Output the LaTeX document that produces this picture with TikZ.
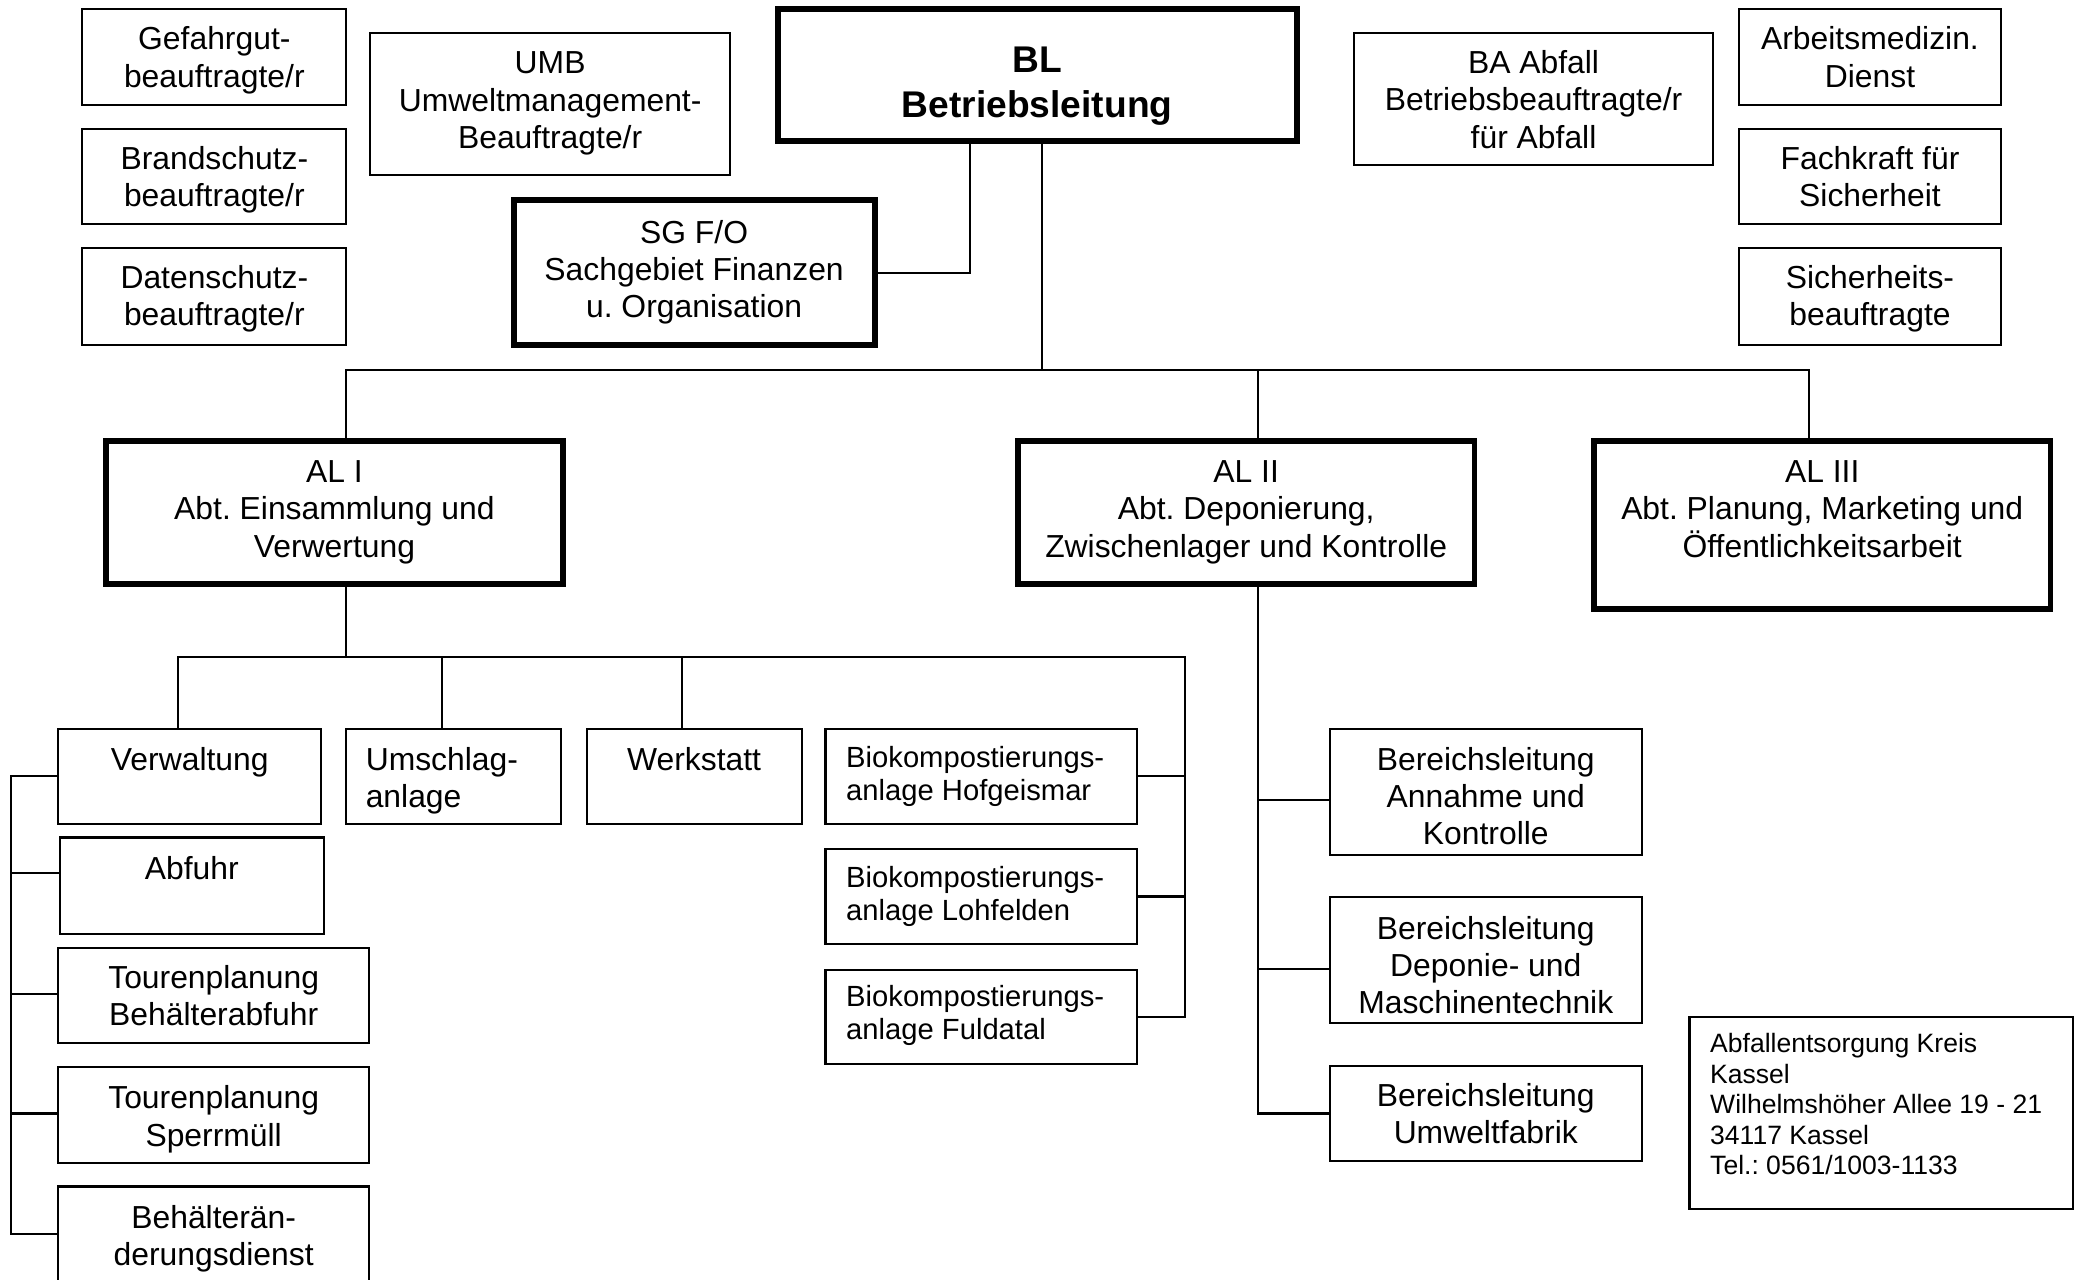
\documentclass[tikz,border=0pt]{standalone}
\usepackage{fontspec}
\setmainfont{Liberation Sans}
\usetikzlibrary{fit,calc}
\frenchspacing
\begin{document}
\begin{tikzpicture}[x=0.5pt,y=-0.5pt,
  box/.style={draw, line width=0.8pt, inner sep=0pt, rectangle},
  tbox/.style={draw, line width=2.2pt, inner sep=0pt, rectangle},
  lbl/.style={inner sep=0pt, align=center, anchor=north, font=\fontsize{12}{14}\selectfont},
  lbll/.style={inner sep=0pt, align=left, anchor=north west, font=\fontsize{12}{14}\selectfont},
  biol/.style={inner sep=0pt, align=left, anchor=north west, font=\fontsize{11}{12.5}\selectfont},
  addrl/.style={inner sep=0pt, align=left, anchor=north west, font=\fontsize{10}{11.5}\selectfont},
  bll/.style={inner sep=0pt, align=center, anchor=north, font=\fontsize{14}{17}\selectfont\bfseries},
  con/.style={line width=0.8pt}]
\useasboundingbox (0,0) rectangle (1568,964);
\clip (0,0) rectangle (1568,964);

% boxes
\node[box, fit={(62,7)(261,79)}] (gef) {};
\node[box, fit={(62,97)(261,169)}] (bra) {};
\node[box, fit={(62,187)(261,260)}] (dat) {};
\node[box, fit={(279,25)(550,132)}] (umb) {};
\node[tbox, fit={(586,7)(977,106)}] (bl) {};
\node[tbox, fit={(387,151)(659,260)}] (sg) {};
\node[box, fit={(1020,25)(1291,124)}] (ba) {};
\node[box, fit={(1310,7)(1508,79)}] (arb) {};
\node[box, fit={(1310,97)(1508,169)}] (fach) {};
\node[box, fit={(1310,187)(1508,260)}] (sich) {};
\node[tbox, fit={(80,332)(424,440)}] (al1) {};
\node[tbox, fit={(767,332)(1111,440)}] (al2) {};
\node[tbox, fit={(1201,332)(1545,459)}] (al3) {};
\node[box, fit={(44,549)(242,621)}] (verw) {};
\node[box, fit={(261,549)(423,621)}] (ums) {};
\node[box, fit={(442,549)(604,621)}] (werk) {};
\node[box, fit={(622,549)(857,621)}] (bio1) {};
\node[box, fit={(622,640)(857,711)}] (bio2) {};
\node[box, fit={(622,731)(857,802)}] (bio3) {};
\node[box, fit={(45,631)(244,704)}] (abf) {};
\node[box, fit={(44,714)(278,786)}] (tba) {};
\node[box, fit={(44,804)(278,876)}] (tsp) {};
\node[box, fit={(44,894)(278,968)}] (beh) {};
\node[box, fit={(1002,549)(1237,644)}] (ber1) {};
\node[box, fit={(1002,676)(1237,771)}] (ber2) {};
\node[box, fit={(1002,803)(1237,875)}] (ber3) {};
\node[box, fit={(1273,766)(1562,911)}] (addr) {};

% texts
\node[lbl] (gef-t) at ([yshift=-6.8pt]gef.north) {Gefahrgut-\\beauftragte/r};
\node[lbl] (bra-t) at ([yshift=-6.8pt]bra.north) {Brandschutz-\\beauftragte/r};
\node[lbl] (dat-t) at ([yshift=-6.8pt]dat.north) {Datenschutz-\\beauftragte/r};
\node[lbl] (umb-t) at ([yshift=-7.3pt]umb.north) {UMB\\Umweltmanagement-\\Beauftragte/r};
\node[bll] (bl-t) at ([yshift=-15pt]bl.north) {BL\\Betriebsleitung};
\node[lbl] (sg-t) at ([yshift=-8.5pt]sg.north) {SG F/O\\Sachgebiet Finanzen\\u. Organisation};
\node[lbl] (ba-t) at ([yshift=-6.8pt]ba.north) {BA Abfall\\Betriebsbeauftragte/r\\für Abfall};
\node[lbl] (arb-t) at ([yshift=-6.8pt]arb.north) {Arbeitsmedizin.\\Dienst};
\node[lbl] (fach-t) at ([yshift=-6.8pt]fach.north) {Fachkraft für\\Sicherheit};
\node[lbl] (sich-t) at ([yshift=-6.8pt]sich.north) {Sicherheits-\\beauftragte};
\node[lbl] (al1-t) at ([yshift=-8.5pt]al1.north) {AL I\\Abt. Einsammlung und\\Verwertung};
\node[lbl] (al2-t) at ([yshift=-8.5pt]al2.north) {AL II\\Abt. Deponierung,\\Zwischenlager und Kontrolle};
\node[lbl] (al3-t) at ([yshift=-8.5pt]al3.north) {AL III\\Abt. Planung, Marketing und\\Öffentlichkeitsarbeit};
\node[lbl] (verw-t) at ([yshift=-7.3pt]verw.north) {Verwaltung};
\node[lbll] (ums-t) at ([xshift=7.5pt,yshift=-7.3pt]ums.north west) {Umschlag-\\anlage};
\node[lbl] (werk-t) at ([yshift=-7.3pt]werk.north) {Werkstatt};
\node[biol] (bio1-t) at ([xshift=8pt,yshift=-6.8pt]bio1.north west) {Biokompostierungs-\\anlage Hofgeismar};
\node[biol] (bio2-t) at ([xshift=8pt,yshift=-6.5pt]bio2.north west) {Biokompostierungs-\\anlage Lohfelden};
\node[biol] (bio3-t) at ([xshift=8pt,yshift=-6pt]bio3.north west) {Biokompostierungs-\\anlage Fuldatal};
\node[lbl] (abf-t) at ([yshift=-7.3pt]abf.north) {Abfuhr};
\node[lbl] (tba-t) at ([yshift=-6.8pt]tba.north) {Tourenplanung\\Behälterabfuhr};
\node[lbl] (tsp-t) at ([yshift=-7.3pt]tsp.north) {Tourenplanung\\Sperrmüll};
\node[lbl] (beh-t) at ([yshift=-7.3pt]beh.north) {Behälterän-\\derungsdienst};
\node[lbl] (ber1-t) at ([yshift=-7.3pt]ber1.north) {Bereichsleitung\\Annahme und\\Kontrolle};
\node[lbl] (ber2-t) at ([yshift=-7.3pt]ber2.north) {Bereichsleitung\\Deponie- und\\Maschinentechnik};
\node[lbl] (ber3-t) at ([yshift=-6.8pt]ber3.north) {Bereichsleitung\\Umweltfabrik};
\node[addrl] (addr-t) at ([xshift=8pt,yshift=-6.6pt]addr.north west) {Abfallentsorgung Kreis\\Kassel\\Wilhelmshöher Allee 19 - 21\\34117 Kassel\\Tel.: 0561/1003-1133};

% connectors: top level
\coordinate (jSG) at (731,205);
\draw[con] (bl.south -| jSG) |- (sg.east);
\coordinate (hL) at (261,279);
\coordinate (hM) at (785,279);
\coordinate (h2) at (948,279);
\coordinate (hR) at (1363,279);
\draw[con] (bl.south -| hM) -- (hM);
\draw[con] (hL |- al1.north) -- (hL) -- (hR) -- (hR |- al3.north);
\draw[con] (h2) -- (h2 |- al2.north);

% AL I subtree
\coordinate (s0) at (261,495);
\coordinate (sL) at (134,495);
\coordinate (sU) at (333,495);
\coordinate (sW) at (514,495);
\coordinate (sR) at (893,495);
\draw[con] (al1.south -| s0) -- (s0);
\draw[con] (sL |- verw.north) -- (sL) -- (sR) |- (bio3.east);
\draw[con] (sU) -- (sU |- ums.north);
\draw[con] (sW) -- (sW |- werk.north);
\draw[con] (bio1.east) -- (bio1.east -| sR);
\draw[con] (bio2.east) -- (bio2.east -| sR);

% left bus
\coordinate (lb2) at (8,658);
\coordinate (lb3) at (8,749);
\coordinate (lb4) at (8,839);
\coordinate (lb5) at (8,930);
\draw[con] (verw.west) -| (lb5) -- (lb5 -| beh.west);
\draw[con] (lb2) -- (lb2 -| abf.west);
\draw[con] (lb3) -- (lb3 -| tba.west);
\draw[con] (lb4) -- (lb4 -| tsp.west);

% AL II subtree
\coordinate (r0) at (948,603);
\coordinate (r1) at (948,730);
\coordinate (r2) at (948,839);
\draw[con] (al2.south -| r0) -- (r2) -- (r2 -| ber3.west);
\draw[con] (r0) -- (r0 -| ber1.west);
\draw[con] (r1) -- (r1 -| ber2.west);
\end{tikzpicture}
\end{document}
